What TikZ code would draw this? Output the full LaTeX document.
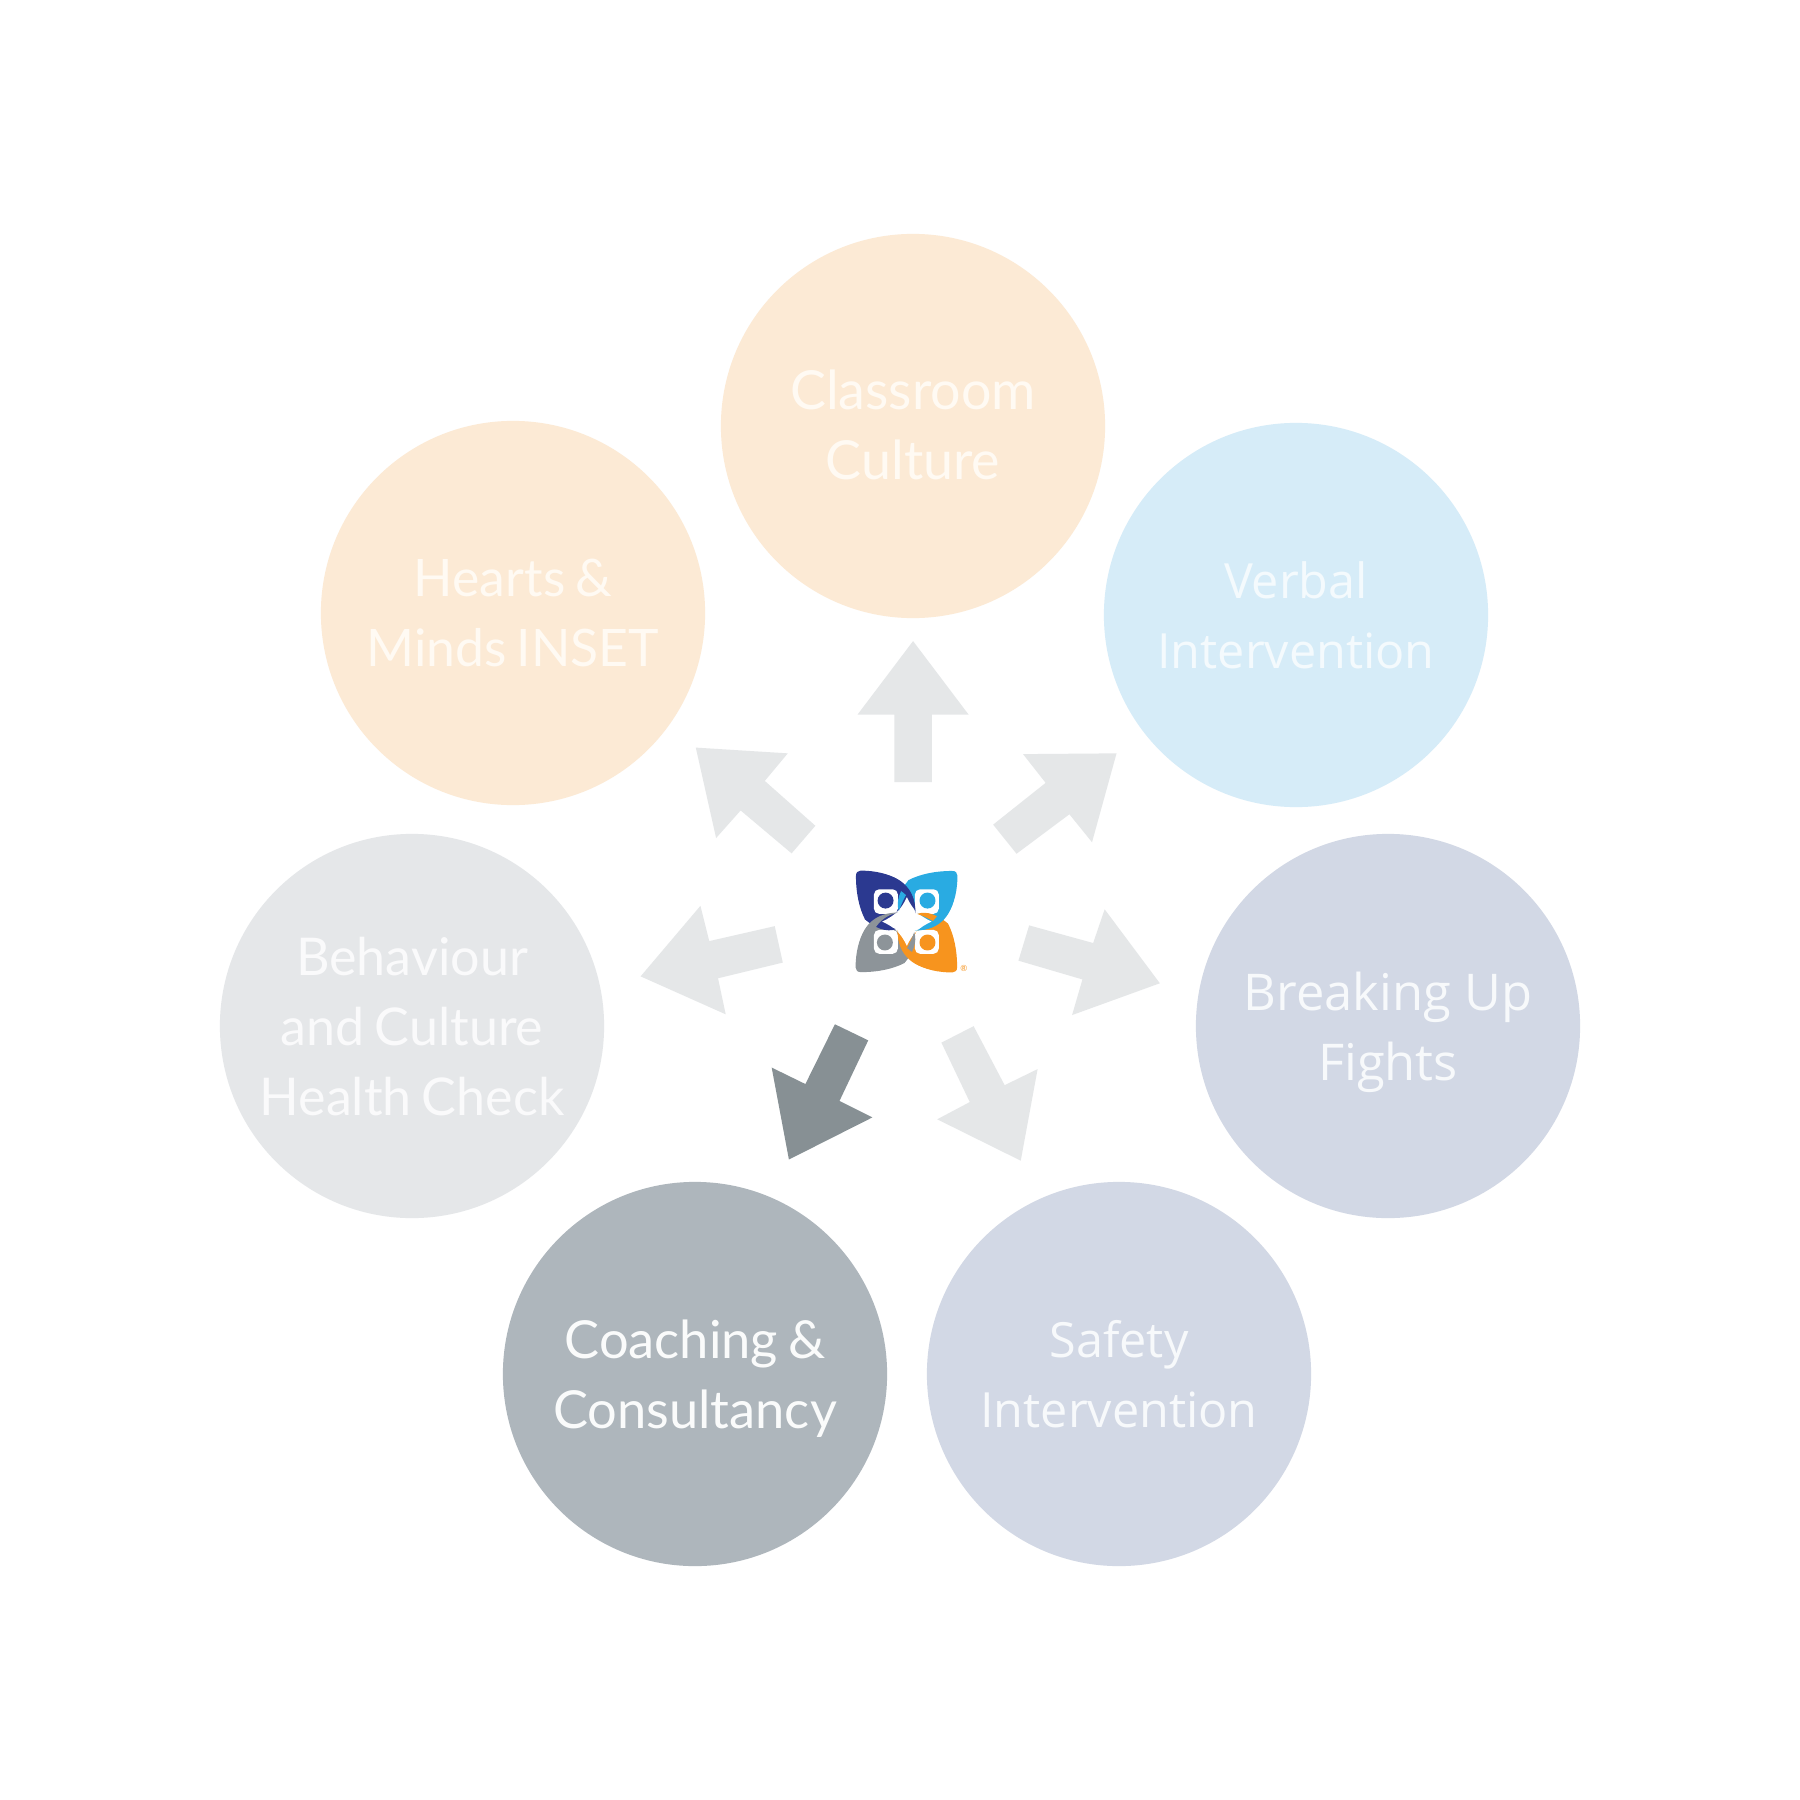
\documentclass[tikz,border=0pt]{standalone}
\usepackage{fontspec}
\setmainfont{Lato}[WordSpace=0.75]
\newfontfamily\plexlike{Open Sans}
\definecolor{peach}{HTML}{FCEAD5}
\definecolor{sky}{HTML}{D6ECF8}
\definecolor{slate}{HTML}{D2D8E5}
\definecolor{steel}{HTML}{AEB6BC}
\definecolor{mist}{HTML}{E5E7E9}
\definecolor{arrowlight}{HTML}{E5E7E8}
\definecolor{arrowdark}{HTML}{879094}
\definecolor{peachtext}{HTML}{FFFAF3}
\definecolor{skytext}{HTML}{F4FAFD}
\definecolor{slatetext}{HTML}{F7F9FB}
\definecolor{steeltext}{HTML}{FAFBFB}
\definecolor{misttext}{HTML}{FAFAFB}
\definecolor{logoblue}{HTML}{2B3990}
\definecolor{logosky}{HTML}{29ABE2}
\definecolor{logoorange}{HTML}{F7941E}
\definecolor{logogray}{HTML}{8D9499}
\tikzset{
  x=0.01cm,y=-0.01cm,
  disc/.style={circle,minimum size=3.84cm,inner sep=0pt},
  caption/.style={align=center,inner sep=0pt},
  mulish/.style={font=\fontsize{#1}{19.9}\selectfont},
  plex/.style={font=\plexlike\fontsize{#1}{19.9}\selectfont},
  blockarrow/.style={fill=arrowlight,draw=none},
  logoitem/.style={rotate around={#1:(260,245)}},
}
\newcommand{\petalpath}{(122,92) .. controls (205,92) and (287,125) .. (287,220) -- (228,268) .. controls (195,268) and (160,258) .. (135,238) .. controls (118,205) and (108,160) .. (108,108) .. controls (108,98) and (113,92) .. (122,92) -- cycle}
\newcommand{\crescentpath}{(160,98) .. controls (235,103) and (287,140) .. (287,220) .. controls (277,170) and (240,135) .. (160,125) -- cycle}
\newcommand{\tailpath}{(150,228) .. controls (175,245) and (200,258) .. (228,268) .. controls (200,278) and (165,265) .. (135,238) -- cycle}
\begin{document}
\begin{tikzpicture}
\useasboundingbox (0,0) rectangle (1800,1800);
\fill[white] (0,0) rectangle (1800,1800);
\node[disc,fill=peach] (classroom) at (913,426) {};
\node[disc,fill=sky] (verbal) at (1296,615) {};
\node[disc,fill=slate] (breaking) at (1388,1026) {};
\node[disc,fill=slate] (safety) at (1119,1374) {};
\node[disc,fill=steel] (coaching) at (695,1374) {};
\node[disc,fill=mist] (behaviour) at (412,1026) {};
\node[disc,fill=peach] (hearts) at (513,613) {};
\node[caption,mulish=15.3,text=peachtext] (classroomtext) at (913,425) {Classroom\\Culture};
\node[caption,plex=13.8,text=skytext] (verbaltext) at (1296,615) {Verbal\\Intervention};
\node[caption,plex=14.4,text=slatetext] (breakingtext) at (1388,1032) {Breaking Up\\Fights};
\node[caption,plex=13.8,text=slatetext] (safetytext) at (1119,1374) {Safety\\Intervention};
\node[caption,mulish=14.9,text=steeltext] (coachingtext) at (695,1379) {Coaching \&\\Consultancy};
\node[caption,mulish=14.8,text=misttext] (behaviourtext) at (412,1027) {Behaviour\\and Culture\\Health Check};
\node[caption,mulish=14.7,text=peachtext] (heartstext) at (513,613) {Hearts \&\\Minds INSET};
% block arrows, drawn in coordinates of a 600px crop at (600,620)
\begin{scope}[shift={(600,620)},x=0.003827cm,y=-0.003827cm]
\fill[blockarrow] (817,55) -- (962,247) -- (866,247) -- (866,423) -- (768,423) -- (768,247) -- (672,247) -- cycle;
\fill[blockarrow] (1348,348) -- (1284,580) -- (1225,507) -- (1087,610) -- (1026,534) -- (1163,425) -- (1104,350) -- cycle;
\fill[blockarrow] (1461,948) -- (1232,1031) -- (1259,938) -- (1092,889) -- (1120,797) -- (1287,843) -- (1317,755) -- cycle;
\fill[blockarrow] (1098,1411) -- (880,1303) -- (965,1258) -- (891,1103) -- (975,1060) -- (1056,1214) -- (1142,1172) -- cycle;
\fill[arrowdark] (493,1408) -- (448,1168) -- (536,1211) -- (613,1055) -- (700,1097) -- (625,1255) -- (711,1298) -- cycle;
\fill[blockarrow] (106,930) -- (262,746) -- (285,838) -- (456,799) -- (477,894) -- (308,935) -- (328,1029) -- cycle;
\fill[blockarrow] (250,333) -- (490,348) -- (430,420) -- (562,537) -- (500,609) -- (367,497) -- (303,569) -- cycle;
\end{scope}
% logo, in coordinates of a 180px crop at (820,840)
\begin{scope}[shift={(820,840)},x=0.003333cm,y=-0.003333cm]
\fill[logogray,logoitem=90] \petalpath;
\fill[logoorange,logoitem=180] \petalpath;
\fill[logosky,logoitem=-90] \petalpath;
\fill[logoblue] \petalpath;
\fill[white,rounded corners=1.5pt] (162,148) rectangle (234,222);
\fill[white,rounded corners=1.5pt] (285,148) rectangle (357,222);
\fill[white,rounded corners=1.5pt] (162,270) rectangle (234,342);
\fill[white,rounded corners=1.5pt] (285,270) rectangle (357,342);
\fill[logoblue] (197,182) circle[radius=24];
\fill[logosky] (323,182) circle[radius=24];
\fill[logogray] (195,308) circle[radius=24];
\fill[logoorange] (323,308) circle[radius=24];
\fill[white] (261,172) .. controls (279,210) and (297,227) .. (335,245) .. controls (297,263) and (279,280) .. (261,318) .. controls (243,280) and (225,263) .. (187,245) .. controls (225,227) and (243,210) .. (261,172) -- cycle;
\fill[logoblue] \tailpath;
\fill[logosky,logoitem=-90] \tailpath;
\fill[logoorange,logoitem=180] \tailpath;
\fill[logogray,logoitem=90] \tailpath;
\fill[logoorange,logoitem=180] \crescentpath;
\fill[logosky,logoitem=-90] \crescentpath;
\fill[logoblue] \crescentpath;
\fill[logogray,logoitem=90] \crescentpath;
\node[text=logoorange,font=\fontsize{2.4}{3}\selectfont,inner sep=0pt] (reg) at (432,387) {®};
\end{scope}
\end{tikzpicture}
\end{document}
